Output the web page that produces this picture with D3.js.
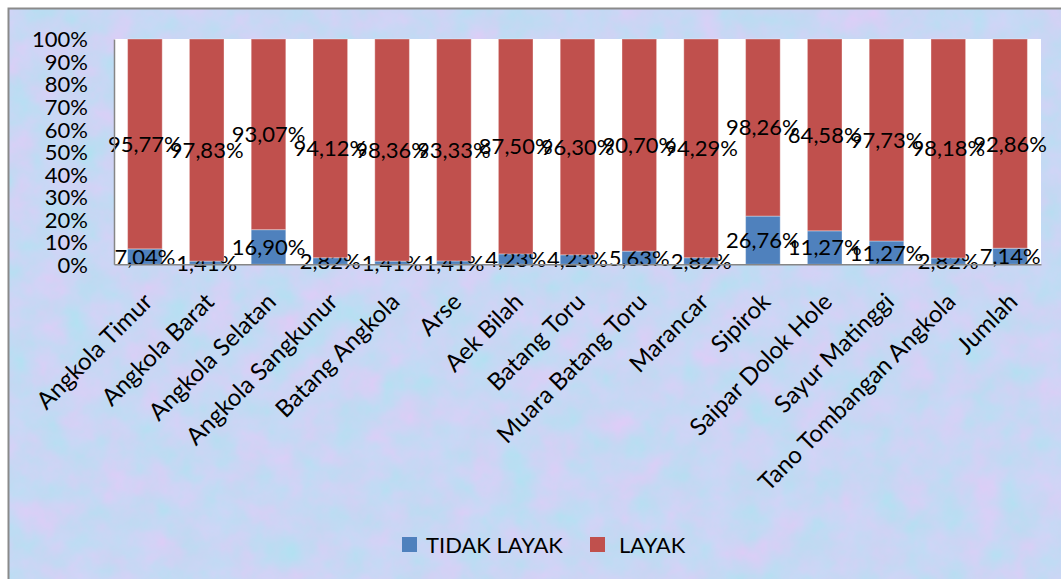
<!DOCTYPE html>
<html>
<head>
<meta charset="utf-8">
<script src="https://cdn.jsdelivr.net/npm/d3@7"></script>
<style>
  body { margin: 0; background: #fff; }
  svg { display: block; }
  text { font-family: Lato, "Open Sans", sans-serif; fill: #000; }
</style>
</head>
<body>
<svg id="grafico"></svg>
<script>
// datos del grafico
var kecamatan = ["Angkola Timur", "Angkola Barat", "Angkola Selatan", "Angkola Sangkunur", "Batang Angkola",
    "Arse", "Aek Bilah", "Batang Toru", "Muara Batang Toru", "Marancar", "Sipirok",
    "Saipar Dolok Hole", "Sayur Matinggi", "Tano Tombangan Angkola", "Jumlah"];
var tidakLayak = [7.04, 1.41, 16.90, 2.82, 1.41, 1.41, 4.23, 4.23, 5.63, 2.82, 26.76, 11.27, 11.27, 2.82, 7.14];
var layak = [95.77, 97.83, 93.07, 94.12, 98.36, 93.33, 87.50, 96.30, 90.70, 94.29, 98.26, 64.58, 97.73, 98.18, 92.86];
var seriesNames = ["TIDAK LAYAK", "LAYAK"];
var yTicks = [0, 0.1, 0.2, 0.3, 0.4, 0.5, 0.6, 0.7, 0.8, 0.9, 1];

var anchura = 1061, altura = 579;
var margen = { left: 114, right: 1041, top: 39, bottom: 264.3 };
var colores = ["#4f81bd", "#c0504d"];

var svg = d3.select("#grafico").attr("width", anchura).attr("height", altura);

// textura de fondo (azul claro con manchas rosas y celestes suaves)
var defs = svg.append("defs");
var filtro = defs.append("filter").attr("id", "textura")
    .attr("x", 0).attr("y", 0).attr("width", 1).attr("height", 1)
    .attr("color-interpolation-filters", "sRGB");
filtro.append("feTurbulence")
    .attr("type", "fractalNoise")
    .attr("baseFrequency", 0.03)
    .attr("numOctaves", 4)
    .attr("seed", 11);
filtro.append("feColorMatrix")
    .attr("type", "matrix")
    .attr("values",
        "0.17 -0.10 0 0 0.75 " +
        "-0.07 0.06 0 0 0.847 " +
        "0.03 0 0 0 0.942 " +
        "0 0 0 0 1");

svg.append("rect")
    .attr("x", 8).attr("y", 8)
    .attr("width", anchura).attr("height", altura)
    .attr("filter", "url(#textura)");

// marco
svg.append("path")
    .attr("d", "M8.5," + altura + "V8.5H" + anchura)
    .attr("fill", "none")
    .attr("stroke", "#8a8a8a")
    .attr("stroke-width", 2);

// area de trazado
svg.append("rect")
    .attr("x", margen.left).attr("y", margen.top)
    .attr("width", margen.right - margen.left)
    .attr("height", margen.bottom - margen.top)
    .attr("fill", "#fff");

var x = d3.scaleBand()
    .domain(kecamatan)
    .range([margen.left, margen.right])
    .paddingInner(0.44)
    .paddingOuter(0.22);

var y = d3.scaleLinear().domain([0, 1]).range([margen.bottom, margen.top]);

// apilar al 100%
var filas = kecamatan.map(function (k, i) {
    var total = tidakLayak[i] + layak[i];
    return { kecamatan: k, "TIDAK LAYAK": tidakLayak[i] / total, "LAYAK": layak[i] / total,
        valores: [tidakLayak[i], layak[i]] };
});
var pila = d3.stack().keys(seriesNames)(filas);

var grupos = svg.selectAll(".serie")
    .data(pila)
    .join("g")
    .attr("class", "serie")
    .attr("fill", function (d, i) { return colores[i]; });

grupos.selectAll("rect")
    .data(function (d) { return d; })
    .join("rect")
    .attr("x", function (d) { return x(d.data.kecamatan); })
    .attr("y", function (d) { return y(d[1]); })
    .attr("width", x.bandwidth())
    .attr("height", function (d) { return y(d[0]) - y(d[1]); })
    .attr("stroke", "rgba(255,255,255,0.35)")
    .attr("stroke-width", 1);

// ejes
var ejeY = svg.append("g")
    .attr("transform", "translate(" + margen.left + ",0)")
    .call(d3.axisLeft(y).tickValues(yTicks).tickSize(0).tickPadding(26)
        .tickFormat(function (d) { return Math.round(d * 100) + "%"; }));
ejeY.select(".domain").attr("stroke", "#868686").attr("stroke-width", 1.5);
ejeY.selectAll("text").style("font-size", "22px").attr("dy", "0.36em");

var ejeX = svg.append("g")
    .attr("transform", "translate(0," + margen.bottom + ")")
    .call(d3.axisBottom(x).tickSize(0).tickFormat(""));
ejeX.select(".domain").attr("stroke", "#868686").attr("stroke-width", 1.5);

// etiquetas de categoria rotadas
svg.append("g").selectAll("text")
    .data(kecamatan)
    .join("text")
    .attr("transform", function (d) {
        return "translate(" + (x(d) + x.bandwidth() / 2 + 9) + "," + (margen.bottom + 39) + ") rotate(-45)";
    })
    .attr("text-anchor", "end")
    .style("font-size", "24px")
    .text(function (d) { return d; });

// etiquetas de datos
var fmt = function (v) { return v.toFixed(2).replace(".", ",") + "%"; };
grupos.selectAll(".etiqueta")
    .data(function (d, si) { return d.map(function (s) { return { s: s, si: si }; }); })
    .join("text")
    .attr("class", "etiqueta")
    .attr("x", function (d) { return x(d.s.data.kecamatan) + x.bandwidth() / 2; })
    .attr("y", function (d) { return y((d.s[0] + d.s[1]) / 2); })
    .attr("dy", "0.36em")
    .attr("text-anchor", "middle")
    .style("font-size", "22px")
    .text(function (d) { return fmt(d.s.data.valores[d.si]); });

// leyenda
var leyendaX = [402, 590];
var leyenda = svg.append("g").selectAll("g")
    .data(seriesNames)
    .join("g")
    .attr("transform", function (d, i) { return "translate(" + leyendaX[i] + ",537)"; });
leyenda.append("rect")
    .attr("width", 15).attr("height", 15)
    .attr("fill", function (d, i) { return colores[i]; });
leyenda.append("text")
    .attr("x", function (d, i) { return i === 0 ? 24 : 29; })
    .attr("y", 8)
    .attr("dy", "0.36em")
    .style("font-size", "22px")
    .text(function (d) { return d; });
</script>
</body>
</html>
